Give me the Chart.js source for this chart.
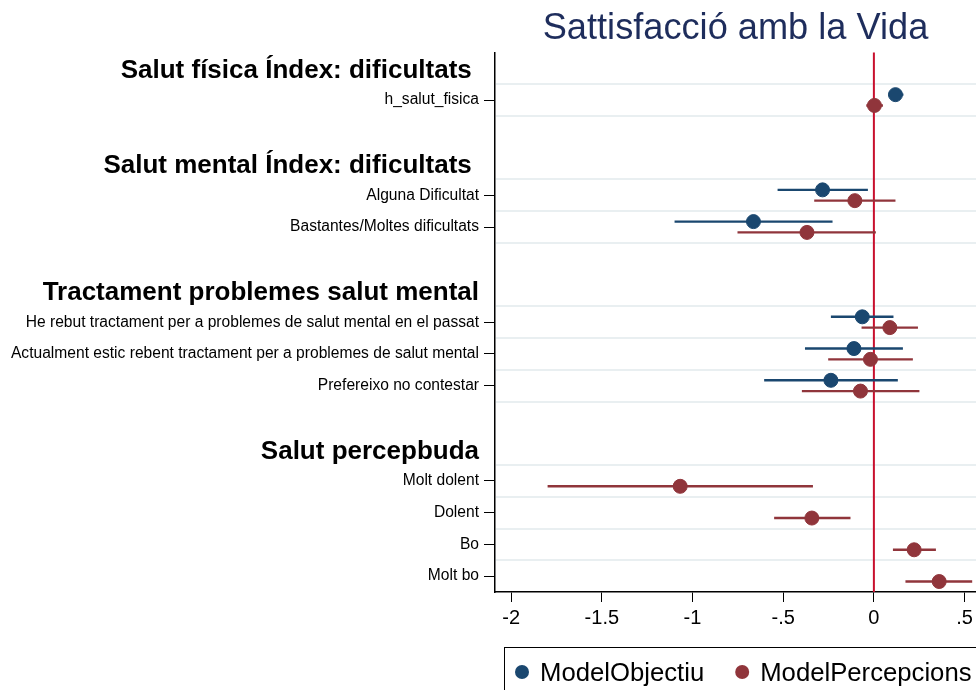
<!DOCTYPE html>
<html>
<head>
<meta charset="utf-8">
<script src="https://cdn.jsdelivr.net/npm/chart.js@4/dist/chart.umd.min.js"></script>
<style>
html,body{margin:0;padding:0;background:#fff;overflow:hidden;}
#wrap{width:976px;height:690px;}
canvas{display:block;}
</style>
</head>
<body>
<div id="wrap"><canvas id="c" width="976" height="690"></canvas></div>
<script>
// ---- data ----
const rowLabels = [
  "Salut física Índex: dificultats ",
  "h_salut_fisica",
  "",
  "Salut mental Índex: dificultats ",
  "Alguna Dificultat",
  "Bastantes/Moltes dificultats",
  "",
  "Tractament problemes salut mental",
  "He rebut tractament per a problemes de salut mental en el passat",
  "Actualment estic rebent tractament per a problemes de salut mental",
  "Prefereixo no contestar",
  "",
  "Salut percepbuda",
  "Molt dolent",
  "Dolent",
  "Bo",
  "Molt bo"
];
const headerRows = [0, 3, 7, 12];
const termRows = [1, 4, 5, 8, 9, 10, 13, 14, 15, 16];

// ModelObjectiu (null = not estimated)
const objEst = [0.119, -0.283, -0.664, -0.064, -0.110, -0.237, null, null, null, null];
const objLo  = [0.080, -0.531, -1.099, -0.237, -0.380, -0.605, null, null, null, null];
const objHi  = [0.163, -0.033, -0.228, 0.108, 0.160, 0.132, null, null, null, null];

// ModelPercepcions
const perEst = [0.003, -0.105, -0.369, 0.088, -0.019, -0.074, -1.068, -0.342, 0.222, 0.360];
const perLo  = [-0.042, -0.329, -0.752, -0.068, -0.252, -0.397, -1.799, -0.550, 0.105, 0.174];
const perHi  = [0.050, 0.119, 0.011, 0.243, 0.215, 0.251, -0.336, -0.129, 0.342, 0.542];

const seriesNames = ["ModelObjectiu", "ModelPercepcions"];
const xTicks = [-2, -1.5, -1, -0.5, 0, 0.5];
const xTickLabels = ["-2", "-1.5", "-1", "-.5", "0", ".5"];
const refLineX = 0;

// ---- styles ----
const BLUE = "#1a476f";
const RED = "#90353b";
const FONT = 'Liberation Sans';
const offset = 0.17;
const headerShift = 0.08;

function pts(est, sign) {
  const out = [];
  est.forEach((v, i) => { if (v !== null) out.push({x: v, y: termRows[i] + sign * offset}); });
  return out;
}
function bars(lo, hi, sign) {
  const out = [];
  lo.forEach((v, i) => { if (v !== null) out.push({x: [v, hi[i]], y: termRows[i] + sign * offset}); });
  return out;
}
const gridSlots = [];
termRows.forEach(r => { gridSlots.push(r - 0.5); gridSlots.push(r + 0.5); });

function rowOf(v) { return Math.round(v); }
function isHeader(v) { return headerRows.includes(rowOf(v)); }

const decor = {
  id: 'decor',
  beforeDatasetsDraw(chart) {
    const {ctx, chartArea: a, scales: {x, y}} = chart;
    ctx.save();
    ctx.strokeStyle = '#e9eff1';
    ctx.lineWidth = 2;
    [...new Set(gridSlots)].forEach(s => {
      if (s > 16.4) return;
      const py = Math.round(y.getPixelForValue(s));
      ctx.beginPath(); ctx.moveTo(a.left + 1, py); ctx.lineTo(a.right, py); ctx.stroke();
    });
    const px = x.getPixelForValue(refLineX);
    ctx.strokeStyle = '#c8102e';
    ctx.lineWidth = 2;
    ctx.beginPath(); ctx.moveTo(px, a.top); ctx.lineTo(px, a.bottom); ctx.stroke();
    ctx.restore();
  },
  afterDraw(chart) {
    // legend (series names with markers)
    const {ctx, chartArea: a} = chart;
    const colors = [BLUE, RED];
    ctx.save();
    const boxTop = a.bottom + 55.5;
    ctx.strokeStyle = '#000';
    ctx.lineWidth = 1;
    ctx.strokeRect(a.left + 9.5, boxTop, 1000, 200);
    ctx.font = '25.7px "' + FONT + '"';
    ctx.textBaseline = 'alphabetic';
    ctx.textAlign = 'left';
    let xPos = a.left + 20;
    const cy = boxTop + 24.5;
    seriesNames.forEach((name, i) => {
      ctx.fillStyle = colors[i];
      ctx.beginPath(); ctx.arc(xPos + 7, cy, 7, 0, Math.PI * 2); ctx.fill();
      ctx.fillStyle = '#000';
      ctx.fillText(name, xPos + 25, cy + 8.5);
      xPos += 25 + ctx.measureText(name).width + 31;
    });
    ctx.restore();
  }
};

new Chart(document.getElementById('c'), {
  type: 'scatter',
  data: {
    datasets: [
      {label: seriesNames[0], data: pts(objEst, -1), backgroundColor: BLUE, borderColor: BLUE, pointRadius: 7, pointHoverRadius: 7, pointStyle: 'circle', order: 1},
      {label: seriesNames[1], data: pts(perEst, 1), backgroundColor: RED, borderColor: RED, pointRadius: 7, pointHoverRadius: 7, pointStyle: 'circle', order: 1},
      {type: 'bar', label: 'ci0', indexAxis: 'y', data: bars(objLo, objHi, -1), backgroundColor: BLUE, grouped: false, maxBarThickness: 2.4, order: 2},
      {type: 'bar', label: 'ci1', indexAxis: 'y', data: bars(perLo, perHi, 1), backgroundColor: RED, grouped: false, maxBarThickness: 2.4, order: 2}
    ]
  },
  options: {
    responsive: false,
    animation: false,
    layout: {autoPadding: false, padding: {left: 0, right: 0, top: 0, bottom: 50}},
    plugins: {
      tooltip: {enabled: false},
      title: {
        display: true,
        text: 'Sattisfacció amb la Vida',
        fullSize: false,
        color: '#1e2d5c',
        font: {family: FONT, size: 36.2, weight: 'normal'},
        padding: {top: 7, bottom: 2}
      },
      legend: {display: false}
    },
    scales: {
      x: {
        type: 'linear',
        offset: false,
        min: -2.089,
        max: 0.563,
        afterBuildTicks: s => { s.ticks = xTicks.map(v => ({value: v})); },
        afterFit: s => { s.height = 48; s.paddingLeft = 0; s.paddingRight = 0; },
        ticks: {
          autoSkip: false,
          maxRotation: 0,
          padding: 4,
          color: '#000',
          font: {family: FONT, size: 20},
          callback: (v) => { const i = xTicks.indexOf(v); return i >= 0 ? xTickLabels[i] : ''; }
        },
        grid: {offset: false, drawOnChartArea: false, drawTicks: true, tickLength: 10, tickColor: '#000', tickWidth: 1},
        border: {display: true, color: '#000', width: 1.5}
      },
      y: {
        type: 'linear',
        offset: false,
        reverse: true,
        min: -0.5,
        max: 16.5,
        afterBuildTicks: s => {
          s.ticks = headerRows.map(v => v + headerShift).concat(termRows).sort((a, b) => a - b).map(v => ({value: v}));
        },
        afterFit: s => { s.width = 495; s.paddingTop = 0; s.paddingBottom = 0; },
        ticks: {
          autoSkip: false,
          padding: 5,
          color: '#000',
          font: (ctx) => (ctx.tick && isHeader(ctx.tick.value))
            ? {family: FONT, size: 26, weight: 'bold'}
            : {family: FONT, size: 15.6, weight: 'normal'},
          callback: (v) => rowLabels[rowOf(v)] || ''
        },
        grid: {
          offset: false, drawOnChartArea: false, drawTicks: true, tickLength: 11, tickWidth: 1,
          tickColor: (ctx) => (ctx.tick && isHeader(ctx.tick.value)) ? 'rgba(0,0,0,0)' : '#000'
        },
        border: {display: true, color: '#000', width: 1.5}
      }
    }
  },
  plugins: [decor]
});
</script>
</body>
</html>
